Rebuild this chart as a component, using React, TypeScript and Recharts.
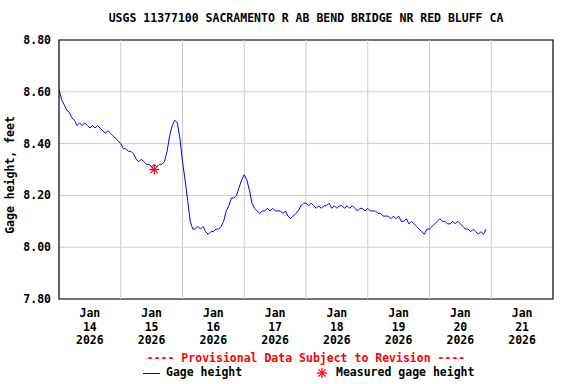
import React from 'react'
import { ComposedChart, Line, Scatter, XAxis, YAxis, CartesianGrid, ReferenceLine, ReferenceArea } from 'recharts'

const STATION = 'USGS 11377100 SACRAMENTO R AB BEND BRIDGE NR RED BLUFF CA'
const MONTH = 'Jan'
const YEAR = '2026'
const DAY_LABELS = ['14', '15', '16', '17', '18', '19', '20', '21']
const Y_TICKS = [7.8, 8.0, 8.2, 8.4, 8.6, 8.8]

// hourly gage height, feet, starting Jan 14 2026 00:00
const GAGE_HEIGHT = [
  8.61, 8.57, 8.55, 8.53, 8.52, 8.5, 8.49, 8.47, 8.48, 8.47, 8.48, 8.47,
  8.46, 8.47, 8.46, 8.47, 8.46, 8.45, 8.44, 8.45, 8.44, 8.43, 8.42, 8.41,
  8.4, 8.38, 8.38, 8.37, 8.37, 8.36, 8.34, 8.33, 8.34, 8.33, 8.32, 8.32,
  8.31, 8.32, 8.31, 8.32, 8.32, 8.33, 8.37, 8.43, 8.47, 8.49, 8.48, 8.42,
  8.33, 8.26, 8.18, 8.1, 8.07, 8.07, 8.08, 8.07, 8.08, 8.06, 8.05, 8.06,
  8.06, 8.07, 8.07, 8.08, 8.1, 8.14, 8.16, 8.19, 8.19, 8.2, 8.23, 8.26,
  8.28, 8.26, 8.22, 8.17, 8.15, 8.14, 8.13, 8.14, 8.14, 8.15, 8.14, 8.15,
  8.14, 8.14, 8.14, 8.13, 8.14, 8.12, 8.11, 8.12, 8.13, 8.14, 8.16, 8.17,
  8.17, 8.16, 8.17, 8.16, 8.15, 8.16, 8.15, 8.16, 8.16, 8.17, 8.15, 8.16,
  8.15, 8.16, 8.16, 8.15, 8.16, 8.15, 8.16, 8.15, 8.14, 8.15, 8.15, 8.14,
  8.15, 8.14, 8.14, 8.14, 8.13, 8.13, 8.12, 8.12, 8.12, 8.11, 8.12, 8.11,
  8.12, 8.1, 8.1, 8.11, 8.09, 8.1, 8.09, 8.08, 8.07, 8.06, 8.05, 8.07,
  8.07, 8.08, 8.09, 8.1, 8.11, 8.1, 8.1, 8.09, 8.09, 8.1, 8.09, 8.1,
  8.09, 8.08, 8.07, 8.07, 8.06, 8.07, 8.06, 8.05, 8.06, 8.05, 8.07,
]

// field measurement (hours after Jan 14 00:00)
const MEASURED_HOUR = [37]
const MEASURED_HEIGHT = [8.3]

const gageData = GAGE_HEIGHT.map((v, i) => ({ hour: i, gage: v }))
const measuredData = MEASURED_HOUR.map((h, i) => ({ hour: h, measured: MEASURED_HEIGHT[i] }))
const dayTicks = DAY_LABELS.map((_, i) => 12 + i * 24)
const midnights = DAY_LABELS.slice(1).map((_, i) => (i + 1) * 24)

const FONT = '"DejaVu Sans Mono", monospace'

function DayTick({ x, y, payload }: any) {
  const label = DAY_LABELS[Math.round((payload.value - 12) / 24)]
  return (
    <text x={x} y={y} textAnchor="middle" fontFamily={FONT} fontWeight="bold" fontSize={11.5} fill="#000">
      <tspan x={x} dy={10}>{MONTH}</tspan>
      <tspan x={x} dy={13.5}>{label}</tspan>
      <tspan x={x} dy={13.5}>{YEAR}</tspan>
    </text>
  )
}

function Asterisk({ cx, cy }: any) {
  const r = 5
  return (
    <g stroke="#ff0000" strokeWidth={1.3}>
      <line x1={cx - r} y1={cy} x2={cx + r} y2={cy} />
      <line x1={cx} y1={cy - r} x2={cx} y2={cy + r} />
      <line x1={cx - r * 0.72} y1={cy - r * 0.72} x2={cx + r * 0.72} y2={cy + r * 0.72} />
      <line x1={cx - r * 0.72} y1={cy + r * 0.72} x2={cx + r * 0.72} y2={cy - r * 0.72} />
    </g>
  )
}

const textStyle: React.CSSProperties = {
  position: 'absolute',
  fontFamily: FONT,
  fontWeight: 'bold',
  fontSize: 11.5,
  whiteSpace: 'nowrap',
  lineHeight: 1,
}

export default function App() {
  return (
    <div style={{ position: 'relative', width: 576, height: 384, background: '#fff' }}>
      <style>{'body{margin:0}'}</style>
      <ComposedChart width={576} height={384} margin={{ top: 40, right: 23, bottom: 0, left: 0 }}>
        <CartesianGrid vertical={false} stroke="#cccccc" />
        <XAxis
          type="number"
          dataKey="hour"
          domain={[0, 192]}
          ticks={dayTicks}
          tick={<DayTick />}
          tickLine={false}
          axisLine={false}
          interval={0}
          height={85}
          allowDataOverflow
        />
        <YAxis
          type="number"
          domain={[7.8, 8.8]}
          ticks={Y_TICKS}
          tickFormatter={(v: number) => v.toFixed(2)}
          tick={{ fontFamily: FONT, fontWeight: 'bold', fontSize: 11.5, fill: '#000' }}
          tickLine={false}
          axisLine={false}
          width={59}
          interval={0}
        />
        {midnights.map((h) => (
          <ReferenceLine key={h} x={h} stroke="#cccccc" />
        ))}
        <Line
          data={gageData}
          dataKey="gage"
          type="linear"
          stroke="#0000ff"
          strokeWidth={1}
          dot={false}
          isAnimationActive={false}
        />
        <Scatter data={measuredData} dataKey="measured" shape={<Asterisk />} isAnimationActive={false} />
        <ReferenceArea x1={0} x2={192} y1={7.8} y2={8.8} fill="none" stroke="#000" strokeWidth={1.2} />
      </ComposedChart>

      <div style={{ ...textStyle, left: 306, top: 19, transform: 'translate(-50%,-50%)' }}>{STATION}</div>
      <div style={{ ...textStyle, left: 11, top: 175, transform: 'translate(-50%,-50%) rotate(-90deg)' }}>
        Gage height, feet
      </div>
      <div style={{ ...textStyle, left: 306, top: 359, transform: 'translate(-50%,-50%)', color: '#ff0000' }}>
        ---- Provisional Data Subject to Revision ----
      </div>
      <div style={{ position: 'absolute', left: 143, top: 373, width: 17, height: 1, background: '#0000ff' }} />
      <div style={{ ...textStyle, left: 166, top: 373, transform: 'translateY(-50%)' }}>Gage height</div>
      <svg style={{ position: 'absolute', left: 316, top: 367 }} width={12} height={12}>
        <Asterisk cx={6} cy={6} />
      </svg>
      <div style={{ ...textStyle, left: 336, top: 373, transform: 'translateY(-50%)' }}>Measured gage height</div>
    </div>
  )
}
